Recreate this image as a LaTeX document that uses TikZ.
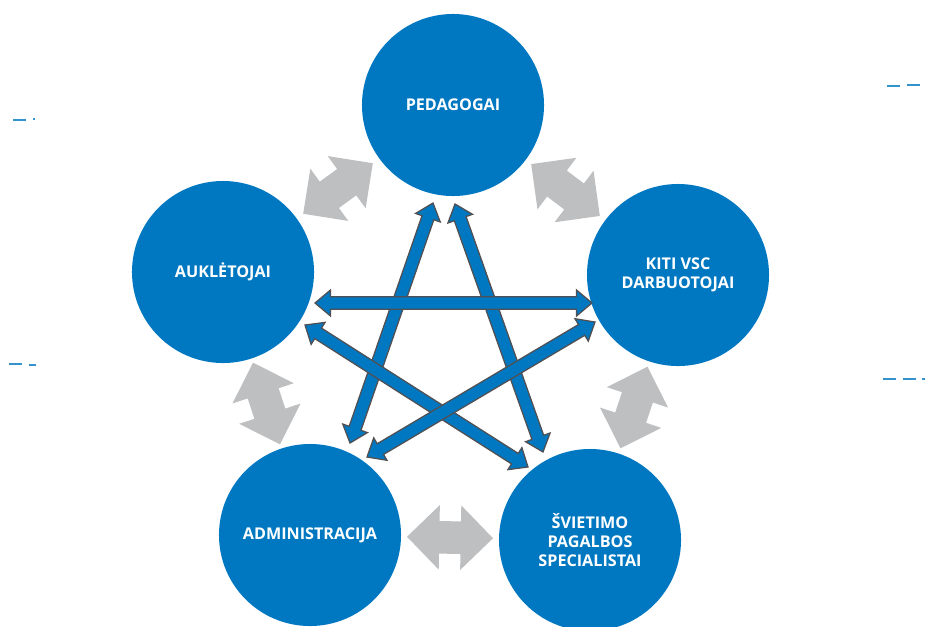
\documentclass[tikz,border=0pt]{standalone}
\usepackage{fontspec}
\setmainfont{Open Sans}
\usetikzlibrary{shapes.arrows, calc}
\definecolor{vscblue}{RGB}{0,120,193}
\definecolor{edgegray}{RGB}{80,80,84}
\definecolor{swapgray}{RGB}{190,191,193}
\begin{document}
\begin{tikzpicture}[x=0.025cm, y=-0.025cm,
    main/.style = {circle, fill=vscblue, minimum size=4.55cm, inner sep=0pt, text=white, align=center, font=\bfseries\fontsize{11.5}{13.5}\selectfont},
    twoway/.style = {double arrow, fill=swapgray, minimum height=2.15cm, inner xsep=0pt, inner ysep=0.4cm, double arrow head extend=0.4cm},
    link/.style = {double arrow, fill=vscblue, draw=edgegray, line width=0.9pt, inner xsep=0pt, inner ysep=0.14cm, double arrow head extend=0.17cm, double arrow tip angle=80},
    frame/.style = {draw=vscblue!80, line width=2pt}]
            \useasboundingbox (0,0) rectangle (925,626);
            \clip (0,0) rectangle (925,626);
            \node[main] (1) at (453,105) {PEDAGOGAI};
            \node[main] (2) at (678,275) {KITI VSC\\DARBUOTOJAI};
            \node[main] (3) at (590,540) {ŠVIETIMO\\PAGALBOS\\SPECIALISTAI};
            \node[main] (4) at (310,535) {ADMINISTRACIJA};
            \node[main] (5) at (223,272) {AUKLĖTOJAI};
            % gray arrows between neighbours
            \path (1.center) -- node[twoway, sloped] (s12) {} (2.center);
            \path (2.center) -- node[twoway, sloped] (s23) {} (3.center);
            \path (3.center) -- node[twoway, sloped] (s34) {} (4.center);
            \path (4.center) -- node[twoway, sloped] (s45) {} (5.center);
            \path (5.center) -- node[twoway, sloped] (s51) {} (1.center);
            % ends of the star arrows
            \coordinate (a1) at (433,203);
            \coordinate (a2) at (350,443);
            \coordinate (b1) at (455,204);
            \coordinate (b2) at (543,452);
            \coordinate (c1) at (315,303);
            \coordinate (c2) at (592,303);
            \coordinate (d1) at (305,325);
            \coordinate (d2) at (528,467);
            \coordinate (e1) at (595,322);
            \coordinate (e2) at (367,457);
            \foreach \a/\b in {a1/a2, b1/b2, c1/c2, d1/d2, e1/e2}
                \path let \p1=($(\b)-(\a)$), \n1={veclen(\x1,\y1)}, \n2={atan2(\y1,\x1)} in
                    node[link, minimum height=\n1, rotate=\n2] at ($(\a)!0.5!(\b)$) {};
            % bits of the frame at the edges
            \draw[frame] (13,120) -- (26,120) (33,119) -- (35,119);
            \draw[frame] (887,86) -- (900,86) (907,85) -- (920,85);
            \draw[frame] (9,364) -- (22,364) (29,365) -- (36,365);
            \draw[frame] (883,379) -- (896,379) (903,379) -- (916,379) (922,379) -- (925,379);
        \end{tikzpicture}
\end{document}
